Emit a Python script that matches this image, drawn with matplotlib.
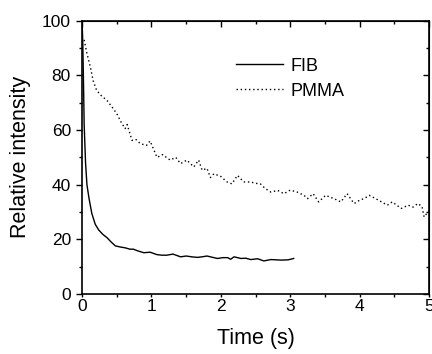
import matplotlib
matplotlib.use("Agg")
import matplotlib.pyplot as plt
from matplotlib.ticker import MultipleLocator

plt.rcParams['font.family'] = ['Liberation Sans', 'DejaVu Sans']

# FIB decay
fib_t = [0.0, 0.01, 0.02, 0.03, 0.05, 0.07, 0.1, 0.14, 0.19, 0.24, 0.3, 0.36, 0.42,
         0.48, 0.55, 0.62, 0.69, 0.74, 0.8, 0.89, 0.98, 1.08, 1.15, 1.22, 1.31, 1.42,
         1.5, 1.58, 1.66, 1.73, 1.8, 1.9, 1.95, 2.03, 2.1, 2.14, 2.19, 2.29, 2.36,
         2.43, 2.53, 2.62, 2.72, 2.8, 2.87, 2.97, 3.05]
fib_v = [100, 92, 78, 62, 48, 40, 35, 29.5, 25.5, 23.4, 21.8, 20.6, 19.0,
         17.6, 17.2, 16.9, 16.4, 16.4, 15.8, 15.1, 15.3, 14.4, 14.2, 14.2, 14.6, 13.6,
         13.9, 13.6, 13.4, 13.6, 13.9, 13.3, 13.0, 13.3, 13.3, 12.7, 13.6, 13.0, 13.1,
         12.6, 12.9, 12.1, 12.6, 12.5, 12.4, 12.5, 13.0]

# PMMA decay
pmma_t = [0.03, 0.07, 0.12, 0.16, 0.21, 0.28, 0.36, 0.43, 0.5, 0.56, 0.62, 0.65,
          0.72, 0.78, 0.84, 0.93, 0.98, 1.08, 1.16, 1.27, 1.35, 1.42, 1.51, 1.61,
          1.68, 1.73, 1.8, 1.85, 1.9, 2.0, 2.09, 2.16, 2.24, 2.33, 2.43, 2.5, 2.57,
          2.64, 2.72, 2.82, 2.91, 3.0, 3.1, 3.2, 3.25, 3.33, 3.41, 3.51, 3.63, 3.73,
          3.82, 3.92, 4.0, 4.07, 4.14, 4.26, 4.33, 4.4, 4.47, 4.6, 4.7, 4.77, 4.84,
          4.9, 4.93, 5.0]
pmma_v = [93, 88, 83, 78, 74.5, 72.5, 70.8, 68.5, 66, 63, 60.5, 62,
          56.2, 56.5, 55, 54.4, 56, 50, 51, 49, 50, 47.7, 49, 46.5,
          49, 45.3, 46, 42.6, 44, 43, 41, 40.3, 43.4, 41, 41, 40.5, 40.3,
          38.6, 37.3, 37.9, 36.7, 38, 37.3, 36.1, 34.9, 36.7, 33.7, 36.1, 34.9, 33.7,
          36.7, 33.1, 34.3, 35, 36.1, 34.5, 33.5, 32.5, 33.7, 31.3, 32.5, 31.8, 33.1,
          32, 28.2, 30.5]

fig = plt.figure(figsize=(4.32, 3.54), dpi=100)
ax = fig.add_axes([0.19, 0.1695, 0.803, 0.772])

ax.plot(fib_t, fib_v, color='black', linewidth=1.0, label='FIB')
ax.plot(pmma_t, pmma_v, color='black', linewidth=1.0, linestyle=(0, (1, 2)), label='PMMA')

ax.set_xlim(0, 5)
ax.set_ylim(0, 100)
ax.xaxis.set_major_locator(MultipleLocator(1))
ax.xaxis.set_minor_locator(MultipleLocator(0.5))
ax.yaxis.set_major_locator(MultipleLocator(20))
ax.yaxis.set_minor_locator(MultipleLocator(10))
# bottom/left ticks point out, top/right point in
ax.tick_params(which='both', direction='out', labelsize=12.5, width=1.0)
ax.tick_params(axis='y', which='major', length=4, pad=4)
ax.tick_params(axis='y', which='minor', length=2.5)
ax.tick_params(axis='x', which='major', length=2.5, pad=1)
ax.tick_params(axis='x', which='minor', length=2)
for s in ax.spines.values():
    s.set_linewidth(1.2)

top = ax.secondary_xaxis('top')
top.xaxis.set_major_locator(MultipleLocator(1))
top.xaxis.set_minor_locator(MultipleLocator(0.5))
top.tick_params(which='both', direction='in', labeltop=False, width=1.0)
top.tick_params(which='major', length=4)
top.tick_params(which='minor', length=2.5)

right = ax.secondary_yaxis('right')
right.yaxis.set_major_locator(MultipleLocator(20))
right.yaxis.set_minor_locator(MultipleLocator(10))
right.tick_params(which='both', direction='in', labelright=False, width=1.0)
right.tick_params(which='major', length=4)
right.tick_params(which='minor', length=2.5)

ax.set_xlabel('Time (s)', fontsize=15.5, labelpad=10)
ax.set_ylabel('Relative intensity', fontsize=15.5, labelpad=8)

ax.legend(loc='upper left', bbox_to_anchor=(0.445, 0.865), frameon=False, fontsize=13,
          handlelength=2.6, handletextpad=0.4, labelspacing=0.45,
          borderpad=0, borderaxespad=0)

fig.savefig('out.png', dpi=100)
